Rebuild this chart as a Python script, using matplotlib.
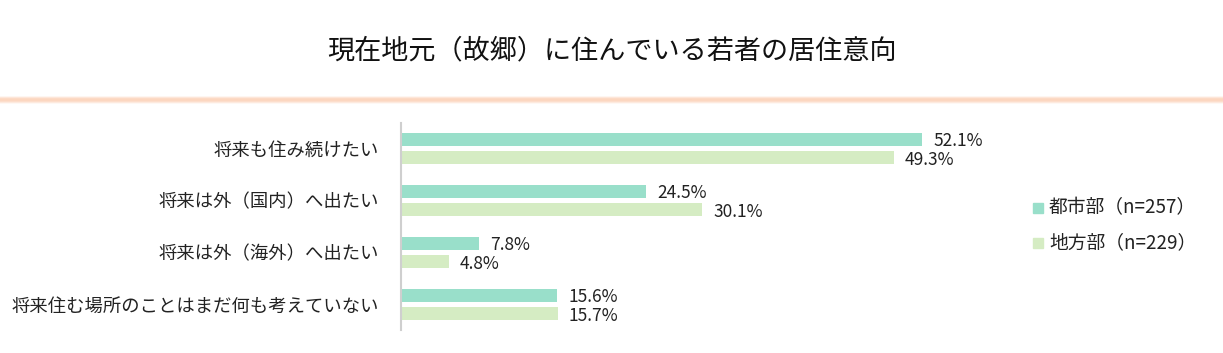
import numpy as np
import matplotlib.pyplot as plt
from matplotlib.patches import Rectangle
from matplotlib.colors import LinearSegmentedColormap

plt.rcParams['font.family'] = ['Noto Sans CJK JP', 'DejaVu Sans']

# data
categories = ['将来も住み続けたい', '将来は外（国内）へ出たい', '将来は外（海外）へ出たい',
              '将来住む場所のことはまだ何も考えていない']
urban = [52.1, 24.5, 7.8, 15.6]
rural = [49.3, 30.1, 4.8, 15.7]
series_names = ['都市部（n=257）', '地方部（n=229）']
title = '現在地元（故郷）に住んでいる若者の居住意向'

c_urban = '#99dfca'
c_rural = '#d5ecc3'
txt = '#222222'

W, H = 1223, 353
fig = plt.figure(figsize=(W / 100, H / 100), dpi=100)

# header with soft peach band underneath
bg = fig.add_axes([0, 0, 1, 1], zorder=0)
bg.set_xlim(0, W)
bg.set_ylim(H, 0)
bg.axis('off')
prof = np.array([0.0, 0.25, 0.7, 1.0, 1.0, 0.9, 0.6, 0.2, 0.0]).reshape(-1, 1)
cmap = LinearSegmentedColormap.from_list('sh', ['#ffffff', '#fcd6bf'])
bg.imshow(prof, cmap=cmap, vmin=0, vmax=1, extent=(0, W, 105, 95),
          aspect='auto', interpolation='bilinear', zorder=0)
bg.text(W / 2, 51, title, ha='center', va='center', fontsize=19.5, color='#111111', zorder=3)

# chart
left, right = 401 / W, 1001 / W
top, bottom = 1 - 123 / H, 1 - 330 / H
ax = fig.add_axes([left, bottom, right - left, top - bottom], zorder=2)
ax.patch.set_alpha(0)
y = np.arange(len(categories))
h = 0.25
off = 0.175
ax.barh(y - off, urban, height=h, color=c_urban, label=series_names[0])
ax.barh(y + off, rural, height=h, color=c_rural, label=series_names[1])
for yi, v in zip(y - off, urban):
    ax.text(v + 1.1, yi + 0.04, f'{v}%', va='center', ha='left', fontsize=12.5, color=txt)
for yi, v in zip(y + off, rural):
    ax.text(v + 1.1, yi + 0.04, f'{v}%', va='center', ha='left', fontsize=12.5, color=txt)

ax.set_xlim(0, 60)
ax.set_ylim(3.49, -0.49)
ax.set_yticks(y)
ax.set_yticklabels(categories, fontsize=13.2, color=txt)
ax.tick_params(axis='y', length=0, pad=16)
ax.set_xticks([])
for s in ['top', 'right', 'bottom']:
    ax.spines[s].set_visible(False)
ax.spines['left'].set_color('#cfcfcf')
ax.spines['left'].set_linewidth(1.5)

# legend
for i, (name, col) in enumerate(zip(series_names, [c_urban, c_rural])):
    yy = 208 + i * 35
    bg.add_patch(Rectangle((1033, yy - 5), 10, 10, color=col, zorder=3))
    bg.text(1049, yy, name, va='center', ha='left', fontsize=13.5, color=txt, zorder=3)

fig.savefig('out.png', dpi=100)
